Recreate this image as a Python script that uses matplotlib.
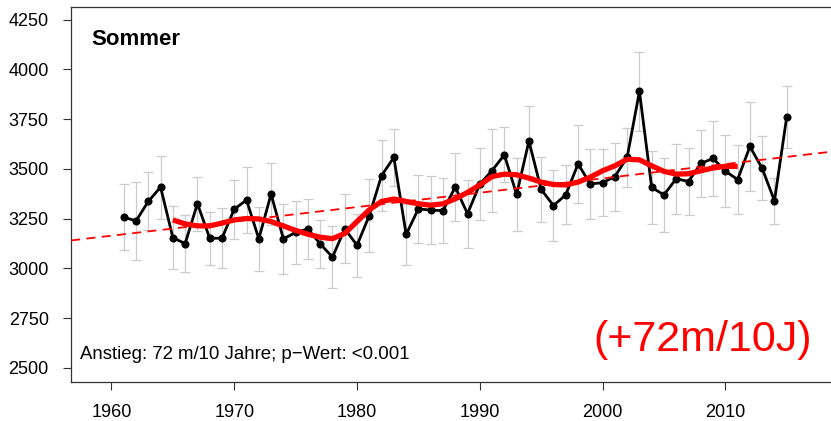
import numpy as np
import matplotlib
matplotlib.use("Agg")
import matplotlib.pyplot as plt

plt.rcParams['font.family'] = ['Liberation Sans', 'DejaVu Sans']

# summer values per year with their uncertainty
years = list(range(1961, 2016))
values = [3258, 3239, 3337, 3409, 3155, 3125, 3326, 3152, 3152, 3298,
          3344, 3149, 3374, 3149, 3181, 3198, 3124, 3057, 3199, 3117,
          3266, 3467, 3558, 3171, 3300, 3293, 3291, 3409, 3275, 3424,
          3492, 3571, 3372, 3640, 3397, 3316, 3370, 3525, 3425, 3431,
          3462, 3558, 3890, 3407, 3370, 3451, 3437, 3528, 3553, 3489,
          3447, 3613, 3503, 3340, 3763]
errors = [167, 195, 146, 158, 160, 142, 136, 132, 150, 149,
          166, 160, 156, 177, 158, 150, 120, 155, 173, 158,
          183, 178, 143, 152, 170, 172, 165, 170, 170, 180,
          207, 138, 185, 174, 161, 177, 148, 198, 176, 168,
          171, 150, 198, 182, 187, 175, 168, 168, 190, 181,
          172, 222, 161, 116, 156]

# smoothed curve (11-year window)
smooth_years = list(range(1965, 2012))
smooth_values = [3244, 3224, 3214, 3214, 3228, 3244, 3251, 3249, 3236, 3214,
                 3191, 3172, 3157, 3150, 3176, 3236, 3295, 3337, 3349, 3337,
                 3325, 3318, 3325, 3350, 3382, 3420, 3462, 3474, 3471, 3454,
                 3434, 3422, 3420, 3434, 3459, 3491, 3516, 3549, 3546, 3516,
                 3488, 3474, 3476, 3491, 3505, 3513, 3513]

slope_per_decade = 72
p_value = "<0.001"

fig = plt.figure(figsize=(8.31, 4.21), dpi=100)
ax = fig.add_axes([71.2 / 831, 39 / 421, 763.8 / 831, 375.3 / 421])

ax.errorbar(years, values, yerr=errors, fmt='none', ecolor='#cccccc',
            elinewidth=0.9, capsize=3.6, capthick=0.9, zorder=1)
ax.plot(years, values, color='black', lw=2.0, marker='o', ms=4.8, zorder=3)

# linear trend through the mean point
ax.axline((np.mean(years), np.mean(values)), slope=slope_per_decade / 10,
          color='red', lw=1.3, ls=(0, (5, 3.5)), zorder=4)
ax.plot(smooth_years, smooth_values, color='red', lw=3.8,
        solid_capstyle='butt', zorder=5)

ax.set_xlim(1956.72, 2018.93)
ax.set_ylim(2429.6, 4315.4)
ax.set_xticks(range(1960, 2020, 10))
ax.set_yticks(range(2500, 4251, 250))
ax.tick_params(labelsize=13, length=5.7, width=0.8, color='#333333')
ax.tick_params(axis='y', pad=10.5)
ax.tick_params(axis='x', pad=10)
for s in ax.spines.values():
    s.set_linewidth(0.9)
    s.set_color('#333333')

ax.text(0.0266, 0.912, "Sommer", transform=ax.transAxes, fontsize=16,
        fontweight='bold', ha='left', va='center')
ax.text(0.011, 0.072,
        f"Anstieg: {slope_per_decade} m/10 Jahre; p\u2212Wert: {p_value}",
        transform=ax.transAxes, fontsize=13.4, ha='left', va='center')
ax.text(0.684, 0.112, f"(+{slope_per_decade}m/10J)", transform=ax.transAxes,
        fontsize=31, color='red', ha='left', va='center')

fig.savefig("out.png", dpi=100)
